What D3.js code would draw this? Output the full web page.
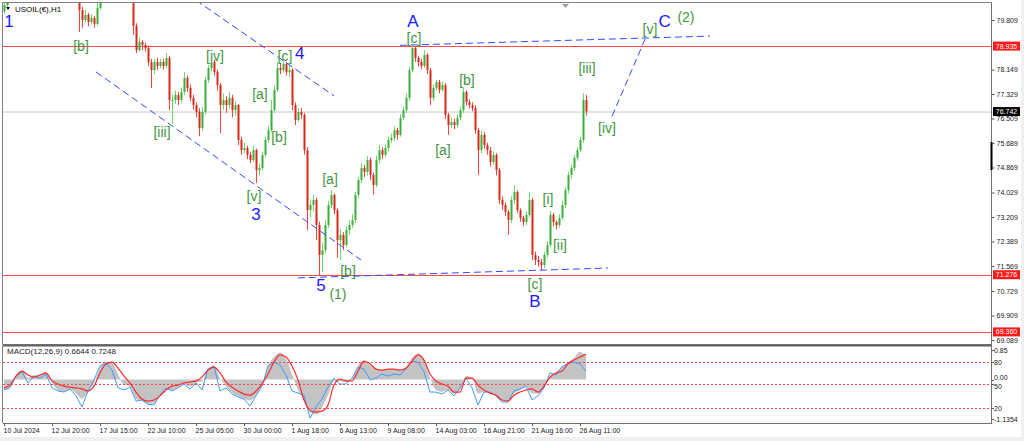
<!DOCTYPE html>
<html><head><meta charset="utf-8">
<script src="https://cdn.jsdelivr.net/npm/d3@7"></script>
<style>
body{margin:0;background:#fff;}
svg{display:block;font-family:"Liberation Sans",Arial,sans-serif;}
</style></head>
<body><svg id="c" width="1024" height="441"></svg>
<script>
// ---------------- DATA ----------------
const firstOpen = 80.10;
const closes = [
80.31,80.64,80.9,81.2,81.5,81.3,81.7,81.9,81.6,81.4,
81.8,82.0,81.7,81.5,81.2,81.4,81.1,80.9,81.2,81.0,
80.8,81.1,80.9,80.7,80.6,80.14,79.81,79.98,79.74,79.88,
79.68,80.21,80.7,80.9,81.1,80.8,81.0,81.3,81.1,80.9,
81.2,81.0,80.95,79.61,78.80,79.07,78.97,78.87,78.40,78.13,
78.40,78.27,78.40,78.27,78.54,77.13,77.13,77.30,77.13,77.40,
77.87,77.53,77.20,76.96,76.73,76.19,76.73,77.80,78.20,78.40,
78.07,77.63,76.96,77.13,76.96,77.20,76.79,76.96,75.79,75.45,
75.52,75.29,75.12,75.45,74.78,74.85,75.29,75.79,76.12,76.79,
77.47,78.20,78.13,78.34,78.07,78.13,76.96,76.46,76.73,76.63,
75.45,73.44,73.61,73.78,72.94,71.94,72.10,72.94,73.61,73.95,
73.44,72.44,72.61,72.27,72.77,72.94,73.11,73.95,74.45,74.85,
74.72,75.12,74.62,74.28,75.12,75.45,75.29,75.52,75.79,75.86,
76.12,75.96,76.53,76.79,77.20,78.13,78.87,78.54,78.40,78.27,
78.64,78.13,77.20,77.53,77.73,77.47,77.63,76.63,76.29,76.39,
76.29,76.53,76.79,77.40,77.06,76.96,76.86,76.12,75.45,75.96,
75.62,75.45,75.05,75.29,74.78,73.78,73.61,73.38,73.11,73.78,
74.05,73.44,73.18,73.04,73.28,73.78,71.94,71.77,71.70,71.60,
71.94,72.27,73.28,73.04,72.94,73.18,73.61,74.11,74.62,74.85,
75.19,75.45,75.79,77.13,76.742];
const highs = [
80.50,80.80,81.05,81.35,81.6,81.65,81.8,82.05,82.0,81.7,
81.9,82.1,82.1,81.8,81.6,81.5,81.5,81.2,81.3,81.3,
81.1,81.2,81.2,81.0,80.8,80.7,80.25,80.15,80.05,80.00,
79.95,80.40,80.85,81.0,81.2,81.2,81.1,81.4,81.4,81.2,
81.3,81.3,81.1,81.0,79.70,79.21,79.14,79.05,78.95,78.50,
78.50,78.55,78.50,78.50,78.70,78.60,77.30,77.45,77.40,77.55,
78.07,77.95,77.65,77.30,77.05,76.85,76.90,77.90,78.30,78.47,
78.47,78.15,77.70,77.35,77.25,77.40,77.30,77.10,77.00,75.90,
75.70,75.60,75.40,75.60,75.50,75.00,75.40,75.90,76.25,77.13,
77.60,78.40,78.35,78.42,78.40,78.30,78.20,77.05,76.85,76.86,
76.70,75.55,73.80,73.95,73.85,73.05,72.35,73.10,73.75,74.11,
74.00,73.50,72.80,72.70,72.90,73.10,73.30,74.05,74.55,75.00,
74.95,75.25,75.20,74.70,75.25,75.62,75.55,75.65,75.90,76.00,
76.25,76.20,76.65,76.90,77.35,78.25,78.97,78.90,78.60,78.50,
78.80,78.70,78.20,77.65,77.80,77.80,77.75,77.70,76.70,76.55,
76.50,76.65,76.90,77.53,77.45,77.15,77.05,76.95,76.20,76.10,
76.05,75.70,75.55,75.40,75.35,74.85,73.90,73.70,73.45,73.90,
74.28,74.10,73.50,73.25,73.40,74.05,73.85,72.05,71.90,71.80,
72.05,72.40,73.41,73.35,73.10,73.30,73.75,74.20,74.72,74.95,
75.30,75.55,75.90,77.36,77.30];
const lows = [
80.02,80.22,80.55,80.8,81.1,81.2,81.2,81.6,81.5,81.3,
81.3,81.7,81.6,81.4,81.1,81.1,81.0,80.8,80.8,80.9,
80.7,80.7,80.8,80.6,80.45,79.41,79.55,79.74,79.60,79.65,
79.55,79.62,80.15,80.6,80.8,80.7,80.7,80.9,81.0,80.8,
80.8,80.9,80.7,79.31,78.70,78.75,78.80,78.75,78.27,77.53,
78.00,78.15,78.20,78.15,78.20,76.79,76.33,77.00,76.96,77.05,
77.30,77.40,77.10,76.80,76.55,75.92,76.10,76.65,77.70,78.10,
77.95,77.45,76.02,76.80,76.70,76.85,76.55,76.60,75.62,75.30,
75.35,75.15,75.02,75.05,74.35,74.60,74.75,75.20,75.70,76.05,
76.70,77.40,78.00,78.05,77.95,77.90,76.79,76.29,76.40,76.50,
75.30,72.77,73.20,73.40,72.44,71.27,71.37,72.00,72.85,73.50,
73.30,71.84,71.77,72.10,72.20,72.60,72.85,73.00,73.85,74.35,
74.55,74.60,74.45,73.95,74.20,75.00,75.15,75.20,75.40,75.70,
75.75,75.80,75.90,76.45,76.70,77.10,78.05,78.40,78.25,78.15,
78.20,78.00,76.96,77.10,77.45,77.35,77.40,76.50,75.96,76.20,
76.15,76.20,76.45,76.70,76.95,76.85,76.75,76.00,74.62,75.35,
75.50,75.30,74.90,74.95,74.60,73.65,73.45,73.25,72.61,73.00,
73.65,73.35,73.05,72.90,72.95,73.20,71.77,71.60,71.55,71.43,
71.50,71.85,72.20,72.90,72.80,72.85,73.10,73.50,74.00,74.50,
74.75,75.10,75.40,75.70,76.60];

const priceTicks = [79.809,78.149,77.329,76.509,75.689,74.869,74.029,73.209,72.389,71.569,70.729,69.909,69.089];
const hLines = [78.935, 71.276, 69.360];
const currentPrice = 76.742;
const timeLabels = ["10 Jul 2024","12 Jul 20:00","17 Jul 15:00","22 Jul 10:00","25 Jul 05:00","30 Jul 00:00","1 Aug 18:00","6 Aug 13:00","9 Aug 08:00","14 Aug 03:00","16 Aug 21:00","21 Aug 16:00","26 Aug 11:00"];
const timeBars = [0,16,32,48,64,80,96,112,128,144,160,176,192];

// MACD (one value every 2 bars)
const macdHist = [
-0.30,-0.20,0.12,0.26,0.05,0.12,0.12,0.20,-0.10,-0.30,
-0.35,-0.28,-0.40,-0.55,-0.35,-0.10,0.35,0.52,0.48,0.15,
-0.15,-0.20,-0.55,-0.62,-0.70,-0.68,-0.48,-0.28,-0.30,-0.22,
-0.12,-0.20,-0.10,-0.05,0.30,0.40,0.05,-0.20,-0.38,-0.48,
-0.55,-0.60,-0.45,-0.15,0.40,0.65,0.78,0.60,0.15,-0.30,
-0.60,-0.95,-1.00,-0.80,-0.45,-0.05,-0.05,-0.08,0.02,0.40,
0.55,0.40,0.30,0.28,0.30,0.30,0.28,0.35,0.62,0.75,
0.55,0.05,-0.30,-0.35,-0.30,-0.40,-0.30,0.10,0.05,-0.40,
-0.35,-0.38,-0.45,-0.60,-0.62,-0.40,-0.30,-0.20,-0.40,-0.40,
-0.20,0.10,0.20,0.38,0.50,0.62,0.80,0.6644];
const macdSignal = [
-0.24,-0.16,0.10,0.24,0.13,0.07,0.13,0.19,-0.04,-0.13,
-0.19,-0.22,-0.24,-0.27,-0.33,-0.19,0.19,0.45,0.50,0.33,
0.10,-0.10,-0.36,-0.56,-0.62,-0.59,-0.47,-0.30,-0.19,-0.16,
-0.10,-0.07,-0.04,0.07,0.27,0.36,0.19,-0.07,-0.22,-0.33,
-0.42,-0.45,-0.33,-0.13,0.16,0.50,0.71,0.65,0.39,-0.01,
-0.59,-0.88,-0.94,-0.91,-0.73,-0.16,0.01,-0.04,-0.04,0.24,
0.53,0.45,0.30,0.27,0.30,0.30,0.27,0.33,0.53,0.71,
0.56,0.16,-0.04,-0.13,-0.19,-0.36,-0.36,0.04,0.04,-0.16,
-0.30,-0.39,-0.45,-0.59,-0.62,-0.45,-0.36,-0.30,-0.27,-0.36,
-0.19,0.07,0.19,0.24,0.45,0.56,0.65,0.7248];
const macdBlue = [
-0.30,-0.24,0.10,0.22,-0.10,0.10,0.04,0.16,-0.24,-0.33,
-0.36,-0.27,-0.47,-0.79,-0.33,-0.01,0.39,0.47,0.27,-0.24,
-0.30,-0.22,-0.62,-0.59,-0.71,-0.73,-0.45,-0.24,-0.33,-0.24,
-0.13,-0.27,-0.10,-0.30,0.30,0.39,-0.33,-0.24,-0.42,-0.50,
-0.56,-0.76,-0.47,-0.19,0.39,0.50,0.42,0.13,-0.33,-0.39,
-0.45,-1.11,-0.79,-0.56,-0.22,0.04,-0.13,-0.13,0.04,0.36,
0.30,-0.01,0.04,0.16,0.10,0.16,0.13,0.30,0.53,0.50,
0.22,-0.36,-0.36,-0.42,-0.30,-0.47,-0.24,0.04,-0.24,-0.73,
-0.36,-0.36,-0.47,-0.65,-0.65,-0.33,-0.27,-0.19,-0.59,-0.47,
-0.24,0.19,0.13,0.36,0.47,0.50,0.45,0.24];
const macdLevels = [{label:"80", v:0.50, dy:2.5},{label:"50", v:-0.13, dy:4.5},{label:"20", v:-0.82, dy:2.5}];
const macdAxis = [{label:"0.85", v:0.85, dy:2.5},{label:"0.00", v:0.0, dy:0.5},{label:"-1.1354", v:-1.1354, dy:2.5}];

// Elliott wave annotations (bar index, price)
const waveLabels = [
 {t:"1",i:1.67,p:79.58,k:"b"},
 {t:"[b]",i:25.67,p:78.77,k:"g"},
 {t:"[iii]",i:52.67,p:75.89,k:"g"},
 {t:"[iv]",i:70.33,p:78.44,k:"g"},
 {t:"[c]",i:93.67,p:78.44,k:"g"},
 {t:"4",i:98.6,p:78.50,k:"b"},
 {t:"[a]",i:85.33,p:77.16,k:"g"},
 {t:"[b]",i:91.67,p:75.72,k:"g"},
 {t:"[v]",i:83.33,p:73.75,k:"g"},
 {t:"3",i:84,p:73.10,k:"b"},
 {t:"[a]",i:108.67,p:74.32,k:"g"},
 {t:"5",i:105.67,p:70.73,k:"b"},
 {t:"(1)",i:111.33,p:70.46,k:"g2"},
 {t:"[b]",i:114.67,p:71.23,k:"g"},
 {t:"A",i:136.33,p:79.58,k:"b"},
 {t:"[c]",i:136.67,p:79.04,k:"g"},
 {t:"[b]",i:154.33,p:77.63,k:"g"},
 {t:"[a]",i:146.33,p:75.29,k:"g"},
 {t:"[i]",i:181.33,p:73.65,k:"g"},
 {t:"[ii]",i:185.33,p:72.11,k:"g"},
 {t:"[c]",i:177,p:70.80,k:"g"},
 {t:"B",i:177,p:70.19,k:"b"},
 {t:"[iii]",i:194.33,p:78.03,k:"g"},
 {t:"[iv]",i:201,p:76.02,k:"g"},
 {t:"[v]",i:215.33,p:79.34,k:"g"},
 {t:"C",i:220.2,p:79.58,k:"b"},
 {t:"(2)",i:227.33,p:79.74,k:"g2"}
];
const trendLines = [
 [[64,80.47],[110,77.27]],
 [[30.67,78.07],[119,71.77]],
 [[98,71.17],[201.3,71.50]],
 [[132,78.96],[235.3,79.27]],
 [[202.7,76.59],[214,79.24]]
];

// ---------------- LAYOUT ----------------
const svg = d3.select("#c");
const L = 3, R = 992, PT = 3, PB = 344, MT = 346, MB = 423;
const x = d3.scaleLinear().domain([0,194]).range([4,586]);
const y = d3.scaleLinear().domain([69.089,79.809]).range([340,20]);
const ym = d3.scaleLinear().domain([-1.1354,0.85]).range([419,350]);

svg.append("rect").attr("width",1024).attr("height",441).attr("fill","#ffffff");
svg.append("rect").attr("x",0).attr("y",437).attr("width",1024).attr("height",4).attr("fill","#f0f0f0");
svg.append("rect").attr("x",1021).attr("y",0).attr("width",3).attr("height",441).attr("fill","#f0f0f0");

const defs = svg.append("defs");
defs.append("clipPath").attr("id","pc").append("rect").attr("x",L).attr("y",PT).attr("width",R-L).attr("height",PB-PT);
defs.append("clipPath").attr("id","mc").append("rect").attr("x",L).attr("y",MT).attr("width",R-L).attr("height",MB-MT);

// ---- price pane ----
const pg = svg.append("g").attr("clip-path","url(#pc)");
pg.append("line").attr("x1",L).attr("x2",R).attr("y1",y(currentPrice)+0.5).attr("y2",y(currentPrice)+0.5)
  .attr("stroke","#c8c8c8").attr("stroke-width",1);
hLines.forEach(p=>{
  pg.append("line").attr("x1",L).attr("x2",R).attr("y1",Math.round(y(p))+0.5).attr("y2",Math.round(y(p))+0.5)
    .attr("stroke","#ff4a4a").attr("stroke-width",1);
});

const candles = closes.map((c,i)=>({i, o: i===0?firstOpen:closes[i-1], c, h:highs[i], l:lows[i]}));
const cg = pg.append("g");
cg.selectAll("line.w").data(candles).join("line").attr("class","w")
  .attr("x1",d=>Math.round(x(d.i))+0.5).attr("x2",d=>Math.round(x(d.i))+0.5)
  .attr("y1",d=>y(d.h)).attr("y2",d=>y(d.l))
  .attr("stroke",d=>d.c>=d.o?"#6ad86a":"#ff4040").attr("stroke-width",1);
cg.selectAll("rect.b").data(candles).join("rect").attr("class","b")
  .attr("x",d=>Math.round(x(d.i))-0.5).attr("width",2)
  .attr("y",d=>y(Math.max(d.o,d.c)))
  .attr("height",d=>Math.max(1,Math.abs(y(d.o)-y(d.c))))
  .attr("fill",d=>d.c>=d.o?"#3cae3c":"#d52a1a");

// trend lines
const tl = d3.line().x(d=>x(d[0])).y(d=>y(d[1]));
trendLines.forEach(seg=>{
  pg.append("path").attr("d",tl(seg)).attr("fill","none").attr("stroke","#3048ff")
    .attr("stroke-width",1).attr("stroke-dasharray","7,4");
});

// wave labels
pg.selectAll("text.wl").data(waveLabels).join("text").attr("class","wl")
  .attr("x",d=>x(d.i)).attr("y",d=>y(d.p)).attr("text-anchor","middle")
  .attr("font-size",d=>d.k==="b"?17:14)
  .attr("fill",d=>d.k==="b"?"#1a1aff":"#3f9640")
  .text(d=>d.t);

// title
svg.append("path").attr("d","M6,7 L10,7 L8,10 Z").attr("fill","#000");
svg.append("text").attr("x",15).attr("y",12).attr("font-size",8).attr("fill","#000").text("USOIL(€),H1");
// chart shift marker
svg.append("path").attr("d","M562,4 L569,4 L565.5,8 Z").attr("fill","#a0a0a0");

// ---- MACD pane ----
const mg = svg.append("g").attr("clip-path","url(#mc)");
const area = d3.area().x((d,k)=>x(2*k)).y0(ym(0)).y1(d=>ym(d)).curve(d3.curveMonotoneX);
mg.append("path").attr("d",area(macdHist)).attr("fill","#c3c3c3");
macdLevels.forEach(l=>{
  mg.append("line").attr("x1",L).attr("x2",R).attr("y1",Math.round(ym(l.v))+0.5).attr("y2",Math.round(ym(l.v))+0.5)
    .attr("stroke","#ff4a4a").attr("stroke-dasharray","2,2").attr("stroke-width",1);
});
const ml = d3.line().x((d,k)=>x(2*k)).y(d=>ym(d));
mg.append("path").attr("d",ml(macdBlue)).attr("fill","none").attr("stroke","#3d9bff").attr("stroke-width",1);
mg.append("path").attr("d",ml.curve(d3.curveMonotoneX)(macdSignal)).attr("fill","none").attr("stroke","#ff2b2b").attr("stroke-width",1.2);
svg.append("text").attr("x",7).attr("y",354).attr("font-size",8).attr("fill","#222").text("MACD(12,26,9) 0.6644 0.7248");

// ---- frames ----
svg.append("rect").attr("x",L-0.5).attr("y",PT-0.5).attr("width",R-L).attr("height",PB-PT+1)
  .attr("fill","none").attr("stroke","#808080");
svg.append("line").attr("x1",L).attr("x2",R).attr("y1",345.5).attr("y2",345.5).attr("stroke","#606060").attr("stroke-width",2);
svg.append("line").attr("x1",L-0.5).attr("x2",L-0.5).attr("y1",MT).attr("y2",MB).attr("stroke","#808080");
svg.append("line").attr("x1",R-0.5).attr("x2",R-0.5).attr("y1",PT).attr("y2",MB).attr("stroke","#707070");
svg.append("line").attr("x1",L).attr("x2",R).attr("y1",MB+0.5).attr("y2",MB+0.5).attr("stroke","#707070");
svg.append("rect").attr("x",990.5).attr("y",142).attr("width",2).attr("height",28).attr("fill","#000");

// ---- price axis ----
const ya = svg.append("g").attr("transform",`translate(${R-0.5},0)`)
  .call(d3.axisRight(y).tickValues(priceTicks).tickSize(3).tickPadding(2).tickFormat(d3.format(".3f")));
ya.select(".domain").remove();
ya.selectAll("line").attr("stroke","#555");
ya.selectAll("text").attr("font-size",7).attr("fill","#222").attr("font-family","Liberation Sans, Arial");

const boxes = [{p:78.935,c:"#ff1a1a"},{p:71.276,c:"#ff1a1a"},{p:69.360,c:"#ff1a1a"},{p:currentPrice,c:"#000"}];
boxes.forEach(b=>{
  svg.append("rect").attr("x",993).attr("y",y(b.p)-4.5).attr("width",27).attr("height",9).attr("fill",b.c);
  svg.append("text").attr("x",1006.5).attr("y",y(b.p)+2.5).attr("text-anchor","middle").attr("font-size",7)
    .attr("fill","#fff").text(d3.format(".3f")(b.p));
});

// ---- MACD axis ----
macdAxis.concat(macdLevels).forEach(l=>{
  svg.append("line").attr("x1",R).attr("x2",R+2).attr("y1",Math.round(ym(l.v))+0.5).attr("y2",Math.round(ym(l.v))+0.5).attr("stroke","#555");
  svg.append("text").attr("x",994).attr("y",ym(l.v)+l.dy).attr("font-size",7).attr("fill","#222").text(l.label);
});

// ---- time axis ----
const xa = svg.append("g").attr("transform",`translate(0,${MB})`)
  .call(d3.axisBottom(x).tickValues(timeBars).tickSize(3).tickPadding(2).tickFormat((d,i)=>timeLabels[i]));
xa.select(".domain").remove();
xa.selectAll("line").attr("stroke","#555");
xa.selectAll("text").attr("text-anchor","start").attr("dx","-1").attr("font-size",7).attr("fill","#222");
</script>
</body></html>
